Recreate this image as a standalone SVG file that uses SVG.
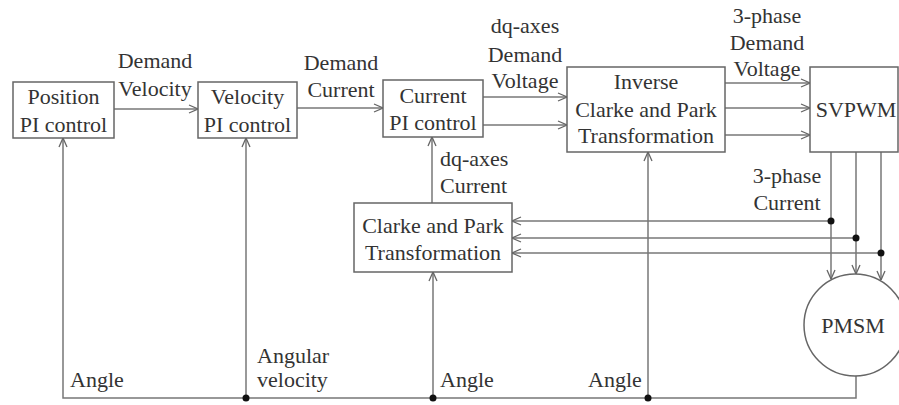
<svg xmlns="http://www.w3.org/2000/svg" width="899" height="405" viewBox="0 0 899 405" font-family="Liberation Serif, DejaVu Serif, serif">
<defs>
<marker id="arr" viewBox="0 0 10 10" refX="10" refY="5" markerWidth="10" markerHeight="10" markerUnits="userSpaceOnUse" orient="auto">
<path d="M1,1 L10,5 L1,9" fill="none" stroke="#666" stroke-width="1.3"/>
</marker>
<style>
.box{fill:#fff;stroke:#666;stroke-width:1.5}
.ln{fill:none;stroke:#777;stroke-width:1.5}
.ar{marker-end:url(#arr)}
text{font-family:'Liberation Serif','DejaVu Serif',serif;font-size:22px;fill:#333}
.c{text-anchor:middle}
.dot{fill:#111}
</style>
</defs>
<rect width="899" height="405" fill="#fff"/>

<g id="connectors">
<path class="ln ar" d="M114,109 H198"/>
<path class="ln ar" d="M297,108 H383"/>
<path class="ln ar" d="M483,97 H567"/>
<path class="ln ar" d="M483,125 H567"/>
<path class="ln ar" d="M725,83 H810"/>
<path class="ln ar" d="M725,108 H810"/>
<path class="ln ar" d="M725,135 H810"/>
<path class="ln ar" d="M831,152 V279"/>
<path class="ln ar" d="M856,152 V274"/>
<path class="ln ar" d="M881,152 V280"/>
<path class="ln ar" d="M831,221 H512"/>
<path class="ln ar" d="M856,238 H512"/>
<path class="ln ar" d="M881,253 H512"/>
<path class="ln ar" d="M432,203 V137"/>
<path class="ln ar" d="M856,376 V398 H63 V138"/>
<path class="ln ar" d="M246,398 V138"/>
<path class="ln ar" d="M433,398 V272"/>
<path class="ln ar" d="M648,398 V152"/>
<circle class="dot" cx="831" cy="221" r="3.5"/>
<circle class="dot" cx="856" cy="238" r="3.5"/>
<circle class="dot" cx="881" cy="253" r="3.5"/>
<circle class="dot" cx="246" cy="398" r="3.5"/>
<circle class="dot" cx="433" cy="398" r="3.5"/>
<circle class="dot" cx="648" cy="398" r="3.5"/>
<text class="c" x="155" y="68">Demand</text>
<text class="c" x="155" y="96">Velocity</text>
<text class="c" x="341" y="70">Demand</text>
<text class="c" x="341" y="97">Current</text>
<text class="c" x="525" y="33">dq-axes</text>
<text class="c" x="525" y="62">Demand</text>
<text class="c" x="525" y="88">Voltage</text>
<text class="c" x="767" y="23">3-phase</text>
<text class="c" x="767" y="50">Demand</text>
<text class="c" x="767" y="76">Voltage</text>
<text x="440" y="166">dq-axes</text>
<text x="440" y="193">Current</text>
<text class="c" x="787" y="183">3-phase</text>
<text class="c" x="787" y="210">Current</text>
<text x="70" y="387">Angle</text>
<text x="257" y="363">Angular</text>
<text x="257" y="387">velocity</text>
<text x="440" y="387">Angle</text>
<text x="588" y="387">Angle</text>
</g>

<g id="position">
<rect class="box" x="13" y="82" width="101" height="56"/>
<text class="c" x="63.5" y="104">Position</text>
<text class="c" x="63.5" y="132">PI control</text>
</g>
<g id="velocity">
<rect class="box" x="198" y="82" width="99" height="56"/>
<text class="c" x="247.5" y="104">Velocity</text>
<text class="c" x="247.5" y="132">PI control</text>
</g>
<g id="current">
<rect class="box" x="383" y="80" width="100" height="57"/>
<text class="c" x="433" y="103">Current</text>
<text class="c" x="433" y="130">PI control</text>
</g>
<g id="inverse">
<rect class="box" x="567" y="67" width="158" height="85"/>
<text class="c" x="646" y="89">Inverse</text>
<text class="c" x="646" y="117">Clarke and Park</text>
<text class="c" x="646" y="143">Transformation</text>
</g>
<g id="svpwm">
<rect class="box" x="810" y="67" width="88" height="85"/>
<text class="c" x="856" y="117">SVPWM</text>
</g>
<g id="clarke">
<rect class="box" x="354" y="203" width="158" height="69"/>
<text class="c" x="433" y="233">Clarke and Park</text>
<text class="c" x="433" y="260">Transformation</text>
</g>
<g id="pmsm">
<circle class="box" cx="855" cy="325" r="51"/>
<text class="c" x="853" y="333">PMSM</text>
</g>
</svg>
